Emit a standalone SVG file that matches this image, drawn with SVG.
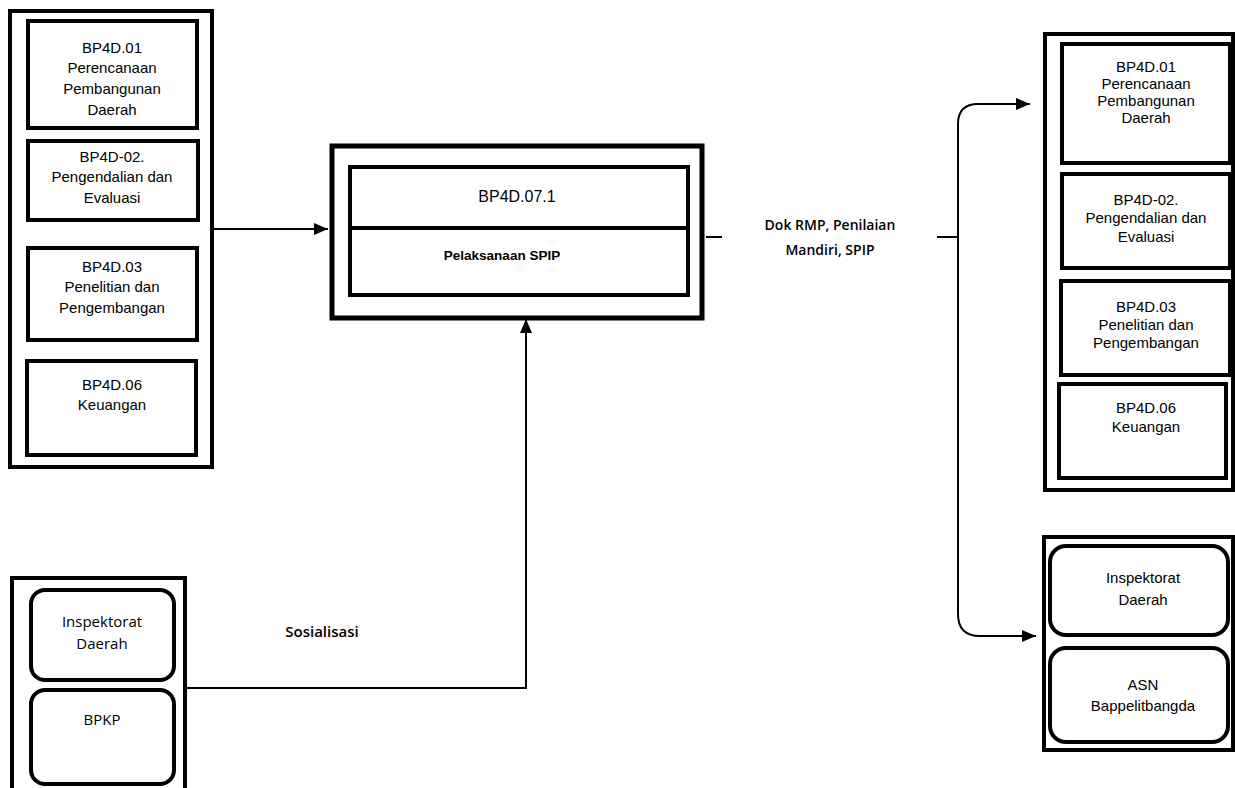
<svg xmlns="http://www.w3.org/2000/svg" width="1235" height="788" viewBox="0 0 1235 788">
<defs>
<marker id="arr" markerUnits="userSpaceOnUse" markerWidth="14" markerHeight="12" refX="14" refY="6" orient="auto">
<path d="M0,0 L14,6 L0,12 z" fill="#000"/>
</marker>
<style>
.outer{fill:#fff;stroke:#000;stroke-width:4}
.inner{fill:#fff;stroke:#000;stroke-width:4}
.conn{fill:none;stroke:#000;stroke-width:2}
.t{font-family:"Liberation Sans",Arial,sans-serif;font-size:15px;fill:#000;text-anchor:middle}
.c{font-family:"Open Sans","Noto Sans",sans-serif;font-size:15px;fill:#000;text-anchor:middle}
.lbl{font-family:"Open Sans","Noto Sans",sans-serif;font-size:14px;font-weight:600;fill:#000;text-anchor:middle}
</style>
</defs>
<rect width="1235" height="788" fill="#fff"/>

<g id="connectors">
<path class="conn" d="M214,229 H328" marker-end="url(#arr)"/>
<path class="conn" d="M187,688 H526 V319" marker-end="url(#arr)"/>
<path class="conn" d="M706,237 H722"/>
<path class="conn" d="M937,237 H958"/>
<path class="conn" d="M958,238 V124 Q958,104 978,104 H1030" marker-end="url(#arr)"/>
<path class="conn" d="M958,236 V614 Q958,636 980,636 H1036" marker-end="url(#arr)"/>
<text class="lbl" x="830" y="230">Dok RMP, Penilaian</text>
<text class="lbl" x="830" y="255">Mandiri, SPIP</text>
<text class="lbl" x="322" y="637" style="font-size:15px">Sosialisasi</text>
</g>

<g id="left-units">
<rect class="outer" x="10" y="11" width="202" height="456"/>
<g id="l-bp4d01">
<rect class="inner" x="28" y="21" width="169" height="107"/>
<text class="t" x="112" y="53">BP4D.01</text>
<text class="t" x="112" y="73">Perencanaan</text>
<text class="t" x="112" y="94">Pembangunan</text>
<text class="t" x="112" y="115">Daerah</text>
</g>
<g id="l-bp4d02">
<rect class="inner" x="28" y="141" width="170" height="79"/>
<text class="t" x="112" y="162">BP4D-02.</text>
<text class="t" x="112" y="182">Pengendalian dan</text>
<text class="t" x="112" y="203">Evaluasi</text>
</g>
<g id="l-bp4d03">
<rect class="inner" x="28" y="248" width="169" height="92"/>
<text class="t" x="112" y="272">BP4D.03</text>
<text class="t" x="112" y="292">Penelitian dan</text>
<text class="t" x="112" y="313">Pengembangan</text>
</g>
<g id="l-bp4d06">
<rect class="inner" x="27" y="361" width="169" height="94"/>
<text class="t" x="112" y="390">BP4D.06</text>
<text class="t" x="112" y="410">Keuangan</text>
</g>
</g>

<g id="center-unit">
<rect class="outer" x="332" y="146" width="370" height="172" style="stroke-width:5"/>
<rect class="inner" x="350" y="167" width="338" height="128"/>
<line x1="350" y1="228" x2="688" y2="228" stroke="#000" stroke-width="4"/>
<text class="t" x="517" y="202" style="font-size:16px">BP4D.07.1</text>
<text class="t" x="502" y="260" style="font-size:13.5px;font-weight:bold">Pelaksanaan SPIP</text>
</g>

<g id="source-units">
<rect class="outer" x="12" y="578" width="173" height="230"/>
<g id="s-inspektorat">
<rect class="inner" x="31" y="590" width="143" height="90" rx="14"/>
<text class="c" x="102" y="627">Inspektorat</text>
<text class="c" x="102" y="649">Daerah</text>
</g>
<g id="s-bpkp">
<rect class="inner" x="31" y="690" width="143" height="94" rx="14"/>
<text class="c" x="102" y="725">BPKP</text>
</g>
</g>

<g id="right-units">
<rect class="outer" x="1045" y="34" width="188" height="456"/>
<g id="r-bp4d01">
<rect class="inner" x="1062" y="44" width="168" height="119"/>
<text class="t" x="1146" y="72">BP4D.01</text>
<text class="t" x="1146" y="89">Perencanaan</text>
<text class="t" x="1146" y="106">Pembangunan</text>
<text class="t" x="1146" y="123">Daerah</text>
</g>
<g id="r-bp4d02">
<rect class="inner" x="1062" y="174" width="168" height="94"/>
<text class="t" x="1146" y="205">BP4D-02.</text>
<text class="t" x="1146" y="223">Pengendalian dan</text>
<text class="t" x="1146" y="242">Evaluasi</text>
</g>
<g id="r-bp4d03">
<rect class="inner" x="1061" y="281" width="169" height="94"/>
<text class="t" x="1146" y="312">BP4D.03</text>
<text class="t" x="1146" y="330">Penelitian dan</text>
<text class="t" x="1146" y="348">Pengembangan</text>
</g>
<g id="r-bp4d06">
<rect class="inner" x="1059" y="384" width="167" height="94"/>
<text class="t" x="1146" y="413">BP4D.06</text>
<text class="t" x="1146" y="432">Keuangan</text>
</g>
</g>

<g id="recipient-units">
<rect class="outer" x="1044" y="537" width="189" height="213"/>
<g id="r-inspektorat">
<rect class="inner" x="1050" y="546" width="178" height="89" rx="16"/>
<text class="t" x="1143" y="583">Inspektorat</text>
<text class="t" x="1143" y="605">Daerah</text>
</g>
<g id="r-asn">
<rect class="inner" x="1050" y="648" width="178" height="94" rx="16"/>
<text class="t" x="1143" y="690">ASN</text>
<text class="t" x="1143" y="711">Bappelitbangda</text>
</g>
</g>
</svg>
